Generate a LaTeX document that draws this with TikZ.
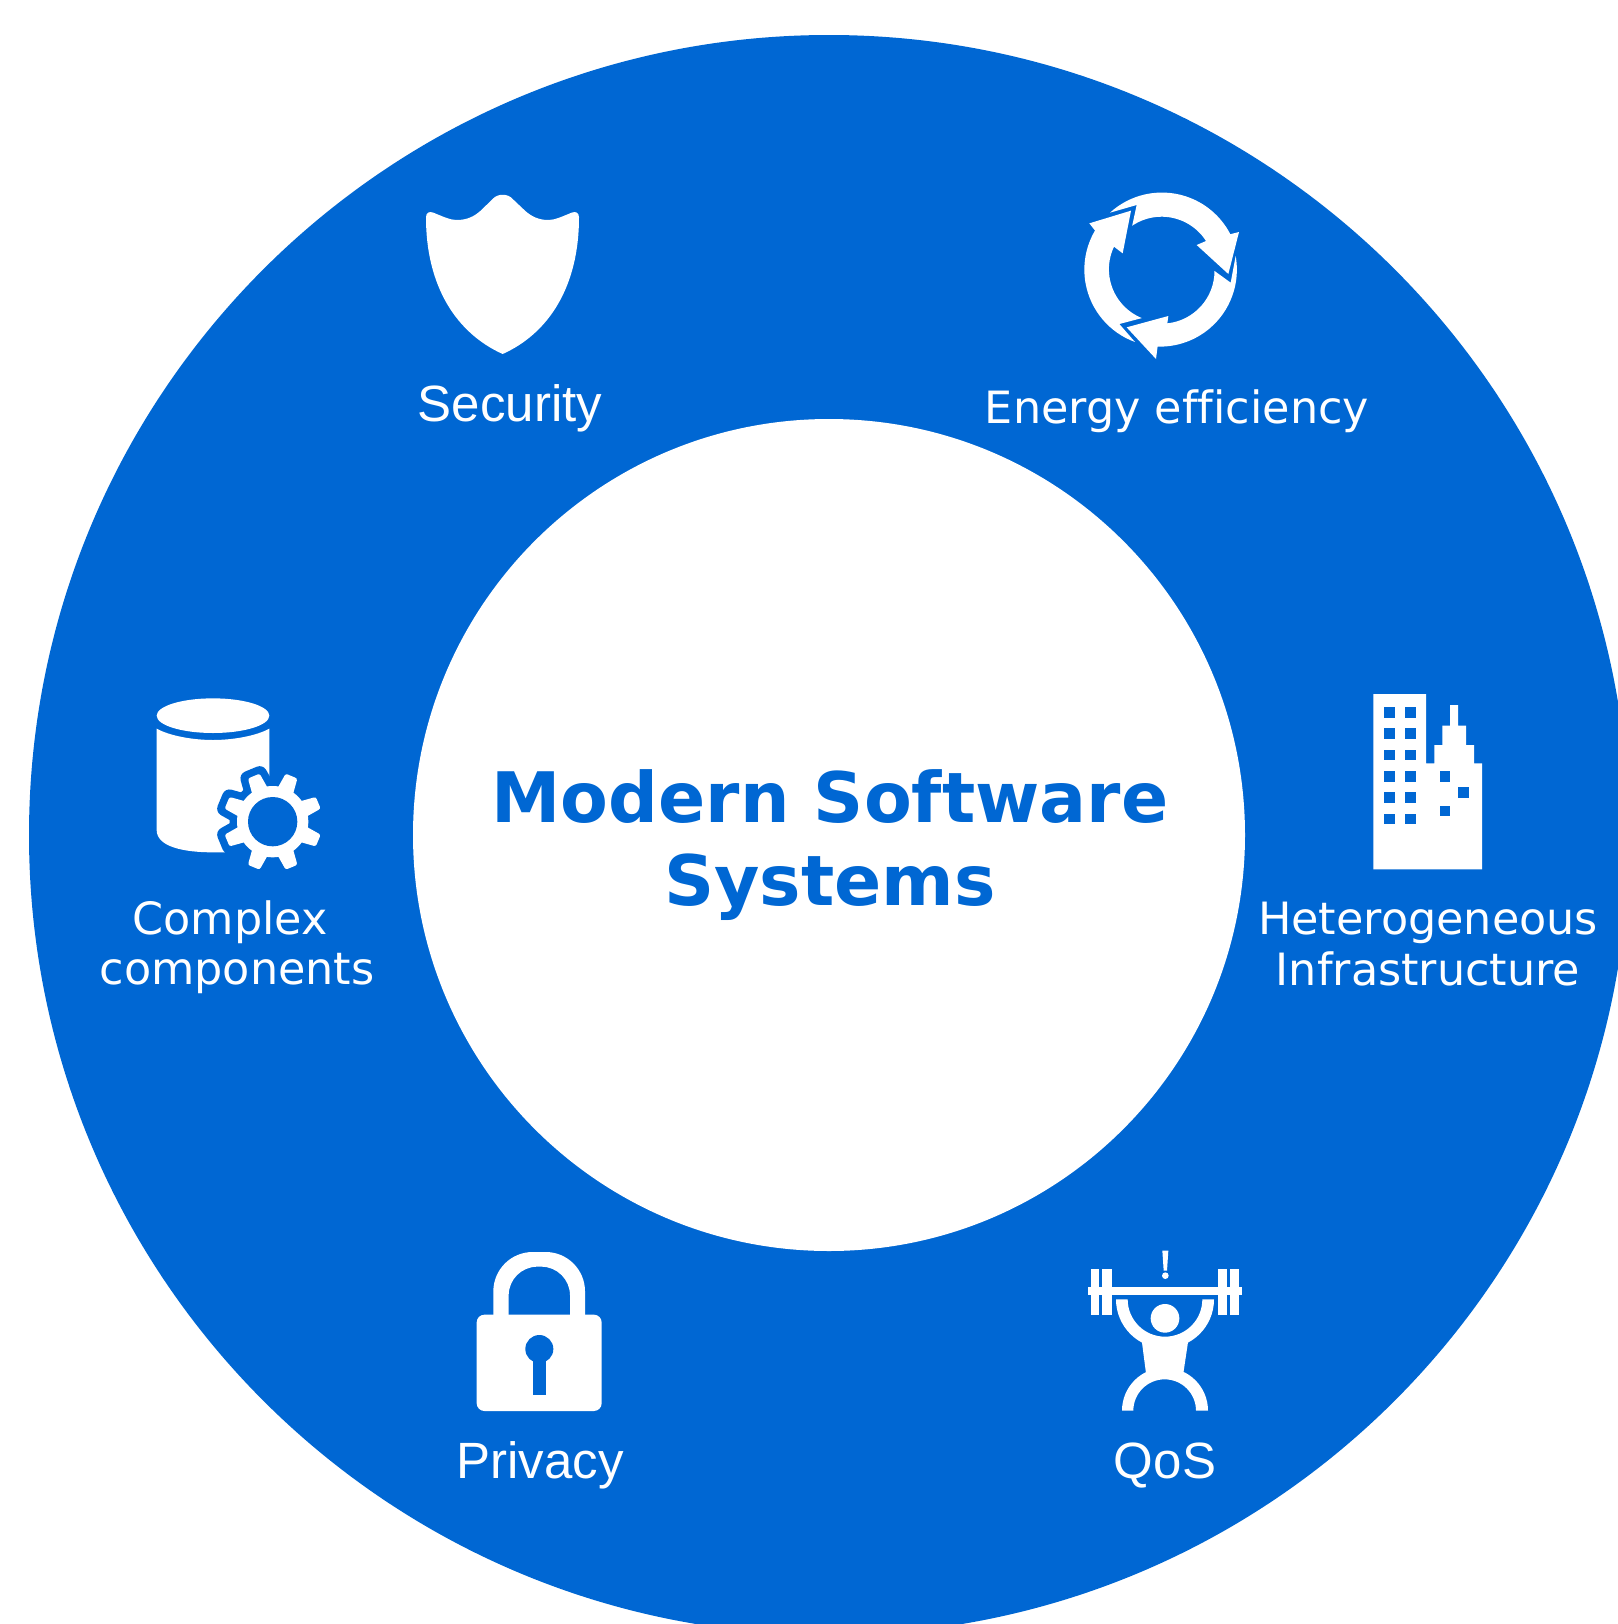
\documentclass[tikz,border=0pt]{standalone}
\usepackage{fontspec}
\setmainfont{Liberation Sans}
\newfontfamily\titlefont[Ligatures=NoCommon]{DejaVu Sans}
\definecolor{ringblue}{RGB}{0,103,211}
\tikzset{
  label/.style={text=white,inner sep=0pt,anchor=base,font=\fontsize{14.5}{14.5}\selectfont},
  widelabel/.style={text=white,inner sep=0pt,anchor=base,font=\titlefont\fontsize{12.65}{14.5}\selectfont},
  title/.style={text=ringblue,inner sep=0pt,align=center,font=\titlefont\bfseries\fontsize{19.8}{23.7}\selectfont},
  icon/.style={fill=white},
  cut/.style={fill=ringblue},
  halo/.style={draw=ringblue,fill=ringblue,line width=0.15cm,line join=round}
}
\begin{document}
\begin{tikzpicture}[x=0.01cm,y=-0.01cm]
  \useasboundingbox (0,0) rectangle (1617,1624);
  \fill[ringblue] (829,835) circle [radius=800];
  \fill[white] (829,835) circle [radius=416];
  \node[title] (centre) at (830,845) {Modern Software\\Systems};
  \node[label] (security) at (510,421) {Security};
  \node[widelabel] (energy) at (1177,423) {Energy efficiency};
  \node[widelabel] (complex) at (230,934) {Complex};
  \node[widelabel] (components) at (237,984) {components};
  \node[widelabel] (hetero) at (1428,934) {Heterogeneous};
  \node[widelabel] (infra) at (1428,985) {Infrastructure};
  \node[label] (privacy) at (540,1478) {Privacy};
  \node[label] (qos) at (1165,1478) {QoS};
  \begin{scope}[shift={(410,180)},scale=1/3]
    \fill[icon] (278,522) .. controls (140,460) and (48,320) .. (48,112)
      .. controls (48,98) and (58,93) .. (70,98)
      .. controls (100,110) and (120,120) .. (140,120)
      .. controls (170,120) and (192,110) .. (212,92)
      -- (248,57) .. controls (262,40) and (294,40) .. (308,57)
      -- (345,92) .. controls (365,110) and (387,120) .. (415,120)
      .. controls (435,120) and (455,110) .. (485,98)
      .. controls (497,93) and (507,98) .. (507,112)
      .. controls (507,320) and (416,460) .. (278,522) -- cycle;
  \end{scope}
  \begin{scope}[shift={(1060,170)},scale=1/3]
    \fill[icon] (150,128) arc [start angle=-132.4,end angle=-27.3,radius=231]
      -- (537,186) -- (505,312) -- (410,225) -- (438,213)
      arc [start angle=-32.6,end angle=-124,radius=158]
      -- (230,105) -- cycle;
    \fill[icon] (527,258) arc [start angle=-10.2,end angle=91.7,radius=231]
      -- (288,567) -- (200,472) -- (325,438) -- (322,460)
      arc [start angle=84,end angle=0,radius=158]
      -- (512,338) -- cycle;
    \fill[icon] (225,516) arc [start angle=110,end angle=210.5,radius=231]
      -- (88,160) -- (213,122) -- (188,250) -- (162,230)
      arc [start angle=205.4,end angle=112,radius=158]
      -- (178,462) -- cycle;
  \end{scope}
  \begin{scope}[shift={(140,680)},scale=1/3]
    \fill[icon] (219,107) ellipse [x radius=169,y radius=52];
    \fill[icon] (50,146) .. controls (90,168) and (160,180) .. (219,180)
      .. controls (278,180) and (348,168) .. (388,146)
      -- (388,300) -- (330,330) -- (270,430) -- (255,517) -- (219,517)
      .. controls (130,517) and (50,500) .. (50,450) -- cycle;
    \begin{scope}[shift={(398,425)}]
      \foreach \a in {22.5,67.5,...,337.5}
        \filldraw[halo,rotate=\a] (90,-26) -- (148,-19) -- (148,19) -- (90,26) -- cycle;
      \filldraw[halo] (0,0) circle [radius=107];
      \foreach \a in {22.5,67.5,...,337.5}
        \fill[icon,rotate=\a,rounded corners=0.6pt] (90,-26) -- (148,-19) -- (148,19) -- (90,26) -- cycle;
      \fill[icon] (0,0) circle [radius=107];
      \fill[cut] (0,0) circle [radius=74];
    \end{scope}
  \end{scope}
  \begin{scope}[shift={(1350,680)},scale=1/3]
    \fill[icon] (70,42) -- (228,42) -- (228,250) -- (253,250) -- (253,195) -- (277,195) -- (277,137)
      -- (300,137) -- (300,75) -- (324,75) -- (324,137) -- (348,137) -- (348,195) -- (372,195)
      -- (372,250) -- (396,250) -- (396,568) -- (70,568) -- cycle;
    \foreach \y in {81,145,209,273,337,401}
      \foreach \x in {102,166}
        \fill[cut] (\x,\y) rectangle ++(32,32);
    \fill[cut] (269,273) rectangle ++(32,32);
    \fill[cut] (325,321) rectangle ++(32,32);
    \fill[cut] (269,377) rectangle ++(32,32);
  \end{scope}
  \begin{scope}[shift={(460,1240)},scale=1/3]
    \fill[icon,rounded corners=2.2pt] (50,224) rectangle (425,513);
    \fill[icon] (100,230) -- (100,154) arc [start angle=180,end angle=270,radius=118]
      -- (257,36) arc [start angle=270,end angle=360,radius=118]
      -- (375,230) -- (330,230) -- (330,166) arc [start angle=360,end angle=270,radius=86]
      -- (232,80) arc [start angle=270,end angle=180,radius=86]
      -- (146,230) -- cycle;
    \fill[cut] (238,327) circle [radius=42];
    \fill[cut] (220,340) rectangle (257,465);
  \end{scope}
  \begin{scope}[shift={(1060,1235)},scale=1/3]
    \fill[icon] (85,157) rectangle (545,180);
    \foreach \x/\w in {93/25,127/28,475/25,510/27}
      \fill[icon] (\x,101) rectangle ++(\w,139);
    \fill[icon] (307,47) -- (325,47) -- (321,107) -- (311,107) -- cycle;
    \fill[icon] (316,122) circle [radius=10];
    \fill[icon] (315,250) circle [radius=43];
    \fill[icon] (168,193) arc [start angle=180,end angle=0,radius=147]
      -- (427,193) arc [start angle=0,end angle=180,radius=112] -- cycle;
    \fill[icon] (245,315) -- (385,315) -- (370,415) -- (258,415) -- cycle;
    \fill[icon] (186,527) arc [start angle=180,end angle=360,radius=129]
      -- (408,527) arc [start angle=360,end angle=180,radius=94] -- cycle;
  \end{scope}
\end{tikzpicture}
\end{document}
